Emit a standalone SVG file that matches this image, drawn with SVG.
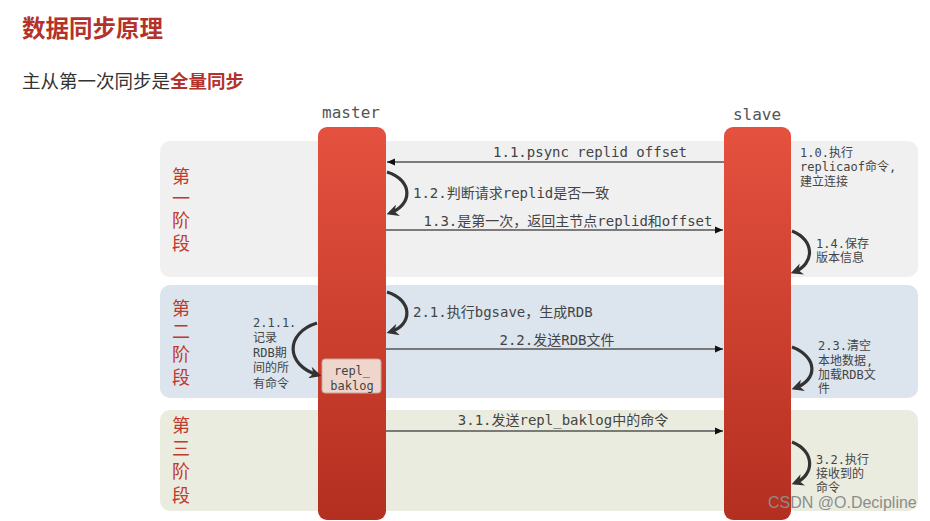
<svg xmlns="http://www.w3.org/2000/svg" width="930" height="521" viewBox="0 0 930 521">
<defs>
<linearGradient id="bar" x1="0" y1="0" x2="0" y2="1">
<stop offset="0" stop-color="#e5513f"/>
<stop offset="1" stop-color="#b42f20"/>
</linearGradient>
<marker id="ah" viewBox="0 0 8 8" refX="8" refY="4" markerWidth="8" markerHeight="8" markerUnits="userSpaceOnUse" orient="auto">
<path d="M0,0.5 L8,4 L0,7.5 z" fill="#111"/>
</marker>
<marker id="lh" viewBox="0 0 10 10" refX="7" refY="5" markerWidth="12" markerHeight="12" markerUnits="userSpaceOnUse" orient="auto">
<path d="M0,0 L10,5 L0,10 L3,5 z" fill="#333"/>
</marker>
</defs>
<style>
.title{font-family:"Noto Sans CJK SC","Noto Sans",sans-serif;font-weight:700;font-size:23.5px;fill:#b3322b}
.sub{font-family:"Noto Sans CJK SC","Noto Sans",sans-serif;font-size:18.5px;fill:#333}
.subb{font-weight:700;fill:#b3322b}
.phase{font-family:"Noto Sans CJK SC",sans-serif;font-size:18px;fill:#c0392b;writing-mode:vertical-rl}
.role{font-family:"DejaVu Sans Mono","Liberation Mono",monospace;font-size:16px;fill:#555;text-anchor:middle}
.lbl{font-family:"DejaVu Sans Mono","Noto Sans CJK SC",monospace;font-size:14px;fill:#444}
.sm{font-family:"DejaVu Sans Mono","Noto Sans CJK SC",monospace;font-size:12px;fill:#444}
.line{stroke:#555;stroke-width:1.3;fill:none;marker-end:url(#ah)}
.loop{stroke:#333;stroke-width:3.2;fill:none;marker-end:url(#lh)}
.wm{font-family:"Liberation Sans",Arial,sans-serif;font-size:16px;fill:#8c8c8c}
</style>
<rect width="930" height="521" fill="#ffffff"/>
<text class="title" x="22" y="37">数据同步原理</text>
<text class="sub" x="22" y="88">主从第一次同步是<tspan class="subb">全量同步</tspan></text>

<g id="phase1">
<rect x="160" y="141" width="758" height="136" rx="10" fill="#f0f0f0"/>
<text class="phase" x="181" y="167" letter-spacing="4.3">第一阶段</text>
</g>
<g id="phase2">
<rect x="160" y="285" width="758" height="113" rx="10" fill="#dce4ee"/>
<text class="phase" x="181" y="299" letter-spacing="5">第二阶段</text>
</g>
<g id="phase3">
<rect x="160" y="410" width="758" height="101" rx="10" fill="#eaecdf"/>
<text class="phase" x="181" y="416" letter-spacing="5.3">第三阶段</text>
</g>

<g id="master">
<text class="role" x="351" y="118">master</text>
<rect x="318" y="127" width="68" height="393" rx="9" fill="url(#bar)"/>
</g>
<g id="slave">
<text class="role" x="757" y="120">slave</text>
<rect x="724" y="127" width="67" height="393" rx="9" fill="url(#bar)"/>
</g>
<g id="repl_baklog">
<rect x="322" y="359" width="59" height="34" rx="3" fill="#efd6cc" stroke="#c9a79a" stroke-width="1"/>
<text class="sm" x="352" y="375" text-anchor="middle" font-size="13" fill="#555">repl_</text>
<text class="sm" x="352" y="390" text-anchor="middle" font-size="13" fill="#555">baklog</text>
</g>

<g id="connectors">
<line class="line" x1="724" y1="162" x2="387" y2="162"/>
<path class="loop" d="M387,172 C413,180 413,205 390,213"/>
<line class="line" x1="386" y1="230" x2="723" y2="230"/>
<path class="loop" d="M792,231 C815,240 815,264 794,272"/>
<path class="loop" d="M387,292 C413,300 413,325 390,332"/>
<path class="loop" d="M317,323 C285,333 285,365 318,375"/>
<line class="line" x1="386" y1="349" x2="723" y2="349"/>
<path class="loop" d="M792,347 C818,357 818,380 795,388"/>
<line class="line" x1="386" y1="431" x2="723" y2="431"/>
<path class="loop" d="M792,442 C815,451 815,475 795,483"/>
</g>

<g id="labels">
<text class="lbl" x="590" y="157" text-anchor="middle">1.1.psync replid offset</text>
<text class="lbl" x="413" y="198">1.2.判断请求replid是否一致</text>
<text class="lbl" x="568" y="226" text-anchor="middle">1.3.是第一次，返回主节点replid和offset</text>
<text class="sm" x="800" y="157">1.0.执行</text>
<text class="sm" x="800" y="171">replicaof命令,</text>
<text class="sm" x="800" y="186">建立连接</text>
<text class="sm" x="816" y="248">1.4.保存</text>
<text class="sm" x="816" y="262">版本信息</text>
<text class="lbl" x="413" y="317">2.1.执行bgsave，生成RDB</text>
<text class="lbl" x="557" y="345" text-anchor="middle">2.2.发送RDB文件</text>
<text class="sm" x="253" y="327">2.1.1.</text>
<text class="sm" x="253" y="342">记录</text>
<text class="sm" x="253" y="357">RDB期</text>
<text class="sm" x="253" y="372">间的所</text>
<text class="sm" x="253" y="388">有命令</text>
<text class="sm" x="818" y="350">2.3.清空</text>
<text class="sm" x="818" y="365">本地数据,</text>
<text class="sm" x="818" y="379">加载RDB文</text>
<text class="sm" x="818" y="393">件</text>
<text class="lbl" x="563" y="425" text-anchor="middle">3.1.发送repl_baklog中的命令</text>
<text class="sm" x="816" y="464">3.2.执行</text>
<text class="sm" x="816" y="478">接收到的</text>
<text class="sm" x="816" y="492">命令</text>
</g>
<text class="wm" x="768" y="508">CSDN @O.Decipline</text>
</svg>
